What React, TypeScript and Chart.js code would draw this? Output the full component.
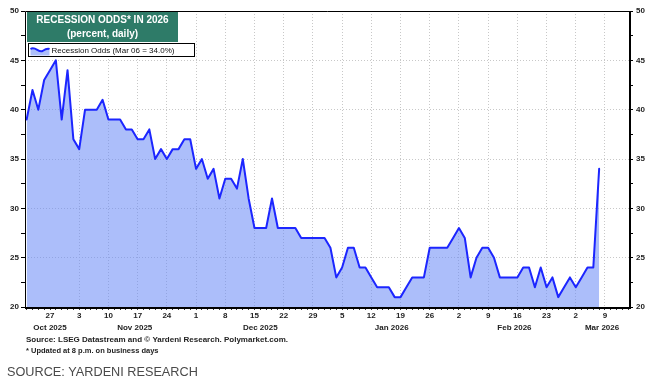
import React, { useEffect, useRef } from "react";
import { Chart, registerables } from "chart.js";

Chart.register(...registerables);

// x = weekday index; index 0 = Mon Oct 27, 2025. First observation = Tue Oct 21, 2025.
const FIRST_INDEX = -4;
const X_MIN = -4.28;
const X_MAX = 99.11;

// Daily (business-day) recession odds, percent
const oddsValues = [
  39, 42, 40, 43, 44, 45, 39, 44, 37, 36,
  40, 40, 40, 41, 39, 39, 39, 38, 38, 37,
  37, 38, 35, 36, 35, 36, 36, 37, 37, 34,
  35, 33, 34, 31, 33, 33, 32, 35, 31, 28,
  28, 28, 31, 28, 28, 28, 28, 27, 27, 27,
  27, 27, 26, 23, 24, 26, 26, 24, 24, 23,
  22, 22, 22, 21, 21, 22, 23, 23, 23, 26,
  26, 26, 26, 27, 28, 27, 23, 25, 26, 26,
  25, 23, 23, 23, 23, 24, 24, 22, 24, 22,
  23, 21, 22, 23, 22, 23, 24, 24, 34,
];

// Monday tick labels, one every 5 weekdays starting at index 0
const weekTickLabels = [
  "27", "3", "10", "17", "24", "1", "8", "15", "22", "29",
  "5", "12", "19", "26", "2", "9", "16", "23", "2", "9",
];
const monthLabels = ["Oct 2025", "Nov 2025", "Dec 2025", "Jan 2026", "Feb 2026", "Mar 2026"];
const monthCenters = [0, 14.5, 36, 58.5, 79.5, 94.5];

const Y_MIN = 20;
const Y_MAX = 50;
const yTickValues = [20, 22.5, 25, 27.5, 30, 32.5, 35, 37.5, 40, 42.5, 45, 47.5, 50];

const titleLines = ["RECESSION ODDS* IN 2026", "(percent, daily)"];
const legendLabel = "Recession Odds (Mar 06 = 34.0%)";
const sourceLines = [
  "Source: LSEG Datastream and \u00A9 Yardeni Research. Polymarket.com.",
  "* Updated at 8 p.m. on business days",
];
const footerText = "SOURCE: YARDENI RESEARCH";

const FONT = "'Liberation Sans', Arial, Helvetica, sans-serif";
const LINE_COLOR = "#1c26ff";
const FILL_COLOR = "rgba(104,137,246,0.55)";
const GRID_COLOR = "#c8c8c8";

const overlayPlugin = {
  id: "overlay",
  afterDraw(chart: any) {
    const { ctx, chartArea: a, scales } = chart;
    ctx.save();

    // frame
    ctx.strokeStyle = "#000";
    ctx.lineWidth = 1;
    ctx.beginPath();
    ctx.moveTo(a.left + 0.5, a.bottom);
    ctx.lineTo(a.left + 0.5, a.top + 0.5);
    ctx.lineTo(a.right, a.top + 0.5);
    ctx.stroke();
    ctx.lineWidth = 2;
    ctx.beginPath();
    ctx.moveTo(a.right + 1, a.top);
    ctx.lineTo(a.right + 1, a.bottom + 1);
    ctx.lineTo(a.left, a.bottom + 1);
    ctx.stroke();

    // title box
    const tx = a.left + 2;
    const ty = a.top + 1;
    ctx.fillStyle = "#2e7b68";
    ctx.fillRect(tx, ty, 151, 30);
    ctx.fillStyle = "#ffffff";
    ctx.font = `bold 10px ${FONT}`;
    ctx.textAlign = "center";
    ctx.textBaseline = "middle";
    ctx.fillText(titleLines[0], tx + 75.5, ty + 8.5);
    ctx.fillText(titleLines[1], tx + 75.5, ty + 22);

    // legend box
    const lx = a.left + 3.5;
    const ly = a.top + 32.5;
    ctx.fillStyle = "#fff";
    ctx.fillRect(lx, ly, 166, 13);
    ctx.strokeStyle = "#000";
    ctx.lineWidth = 1;
    ctx.strokeRect(lx, ly, 166, 13);
    // sample wave
    const wx0 = lx + 2;
    const wy = ly + 6.5;
    const wave = () => {
      ctx.moveTo(wx0, wy - 1);
      ctx.bezierCurveTo(wx0 + 5, wy - 4, wx0 + 8, wy + 3, wx0 + 12, wy + 1);
      ctx.bezierCurveTo(wx0 + 15, wy - 1, wx0 + 17, wy - 2, wx0 + 19, wy - 1);
    };
    ctx.beginPath();
    wave();
    ctx.lineTo(wx0 + 19, ly + 12);
    ctx.lineTo(wx0, ly + 12);
    ctx.closePath();
    ctx.fillStyle = FILL_COLOR;
    ctx.fill();
    ctx.beginPath();
    wave();
    ctx.strokeStyle = LINE_COLOR;
    ctx.lineWidth = 2;
    ctx.stroke();
    ctx.fillStyle = "#111";
    ctx.font = `8px ${FONT}`;
    ctx.textAlign = "left";
    ctx.fillText(legendLabel, lx + 23, wy + 0.5);

    // month labels
    ctx.font = `bold 8px ${FONT}`;
    ctx.textAlign = "center";
    ctx.fillStyle = "#222";
    monthLabels.forEach((m, i) => {
      ctx.fillText(m, scales.x.getPixelForValue(monthCenters[i]), a.bottom + 21);
    });

    // source lines
    ctx.textAlign = "left";
    ctx.fillText(sourceLines[0], a.left + 1, a.bottom + 33);
    ctx.font = `bold 7.5px ${FONT}`;
    ctx.fillText(sourceLines[1], a.left + 1, a.bottom + 44);

    // footer
    ctx.font = `12.7px ${FONT}`;
    ctx.fillStyle = "#4a4a4a";
    ctx.fillText(footerText, 7, 372);

    ctx.restore();
  },
};

export default function App() {
  const ref = useRef<HTMLCanvasElement | null>(null);

  useEffect(() => {
    document.body.style.margin = "0";
    if (!ref.current) return;
    const points = oddsValues.map((v, i) => ({ x: FIRST_INDEX + i, y: v }));
    const tickFont = { family: FONT, size: 8, weight: "bold" as const };

    const yCommon = (position: "left" | "right", onArea: boolean) => ({
      type: "linear" as const,
      position,
      min: Y_MIN,
      max: Y_MAX,
      afterBuildTicks: (scale: any) => {
        scale.ticks = yTickValues.map((v) => ({ value: v }));
      },
      afterFit: (scale: any) => {
        scale.width = 25;
      },
      border: { display: false, dash: [1, 2] },
      grid: {
        drawOnChartArea: onArea,
        color: (c: any) => {
          const v = c.tick ? c.tick.value : 0;
          return v % 5 === 0 && v !== Y_MIN && v !== Y_MAX ? GRID_COLOR : "rgba(0,0,0,0)";
        },
        tickColor: "#000",
        tickLength: 4,
        lineWidth: 1,
      },
      ticks: {
        font: tickFont,
        color: "#222",
        padding: position === "left" ? 2 : 3,
        callback: (v: any) => (Number(v) % 5 === 0 ? String(v) : ""),
      },
    });

    const chart = new Chart(ref.current, {
      type: "line",
      data: {
        datasets: [
          {
            label: legendLabel,
            data: points,
            borderColor: LINE_COLOR,
            backgroundColor: FILL_COLOR,
            borderWidth: 2,
            pointRadius: 0,
            fill: "start",
            tension: 0,
            borderJoinStyle: "round",
            borderCapStyle: "round",
          },
        ],
      },
      options: {
        animation: false,
        responsive: false,
        maintainAspectRatio: false,
        layout: { padding: { top: 11, left: 0, right: 0, bottom: 0 } },
        plugins: { legend: { display: false }, tooltip: { enabled: false } },
        scales: {
          x: {
            type: "linear",
            min: X_MIN,
            max: X_MAX,
            afterBuildTicks: (scale: any) => {
              const t = [];
              for (let i = Math.ceil(X_MIN); i <= Math.floor(X_MAX); i++) t.push({ value: i });
              scale.ticks = t;
            },
            afterFit: (scale: any) => {
              scale.height = 83;
            },
            border: { display: false, dash: [1, 2] },
            grid: {
              color: (c: any) => {
                const v = c.tick ? Math.round(c.tick.value) : -1;
                return v > 0 && v % 5 === 0 ? GRID_COLOR : "rgba(0,0,0,0)";
              },
              tickColor: "#333",
              tickLength: 3,
              lineWidth: 1,
            },
            ticks: {
              autoSkip: false,
              maxRotation: 0,
              font: tickFont,
              color: "#222",
              padding: 1,
              callback: (value: any) => {
                const v = Math.round(Number(value));
                if (v >= 0 && v % 5 === 0) return weekTickLabels[v / 5] ?? "";
                return "";
              },
            },
          },
          y: yCommon("left", true),
          y2: yCommon("right", false),
        },
      },
      plugins: [overlayPlugin],
    });
    return () => chart.destroy();
  }, []);

  return (
    <div style={{ position: "absolute", left: 0, top: 0, width: 654, height: 390, background: "#fff" }}>
      <canvas ref={ref} width={654} height={390} />
    </div>
  );
}
